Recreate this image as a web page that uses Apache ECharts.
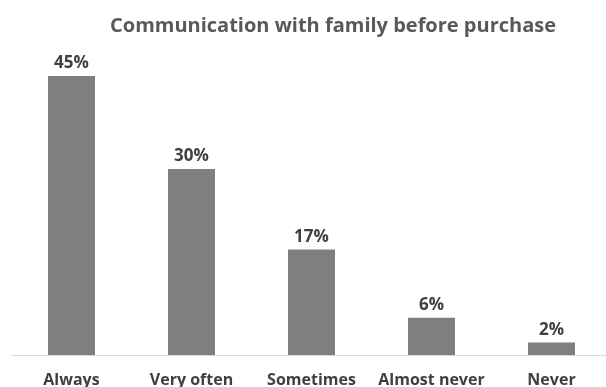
<!DOCTYPE html>
<html>
<head>
<meta charset="utf-8">
<script src="https://cdn.jsdelivr.net/npm/echarts@6/dist/echarts.min.js"></script>
<style>
  html, body { margin: 0; padding: 0; background: #fff; }
  #chart { width: 606px; height: 387px; }
</style>
</head>
<body>
<div id="chart"></div>
<script>
const categories = ['Always', 'Very often', 'Sometimes', 'Almost never', 'Never']
const shares = [45, 30, 17, 6, 2]

const chart = echarts.init(document.getElementById('chart'))
chart.setOption({
  animation: false,
  title: {
    text: 'Communication with family before purchase',
    left: 328,
    textAlign: 'center',
    top: 11,
    textStyle: {
      fontFamily: 'Open Sans',
      fontWeight: 'bold',
      fontSize: 20,
      color: '#595959'
    }
  },
  grid: {
    left: 11.5,
    width: 600,
    top: 45,
    height: 310,
    outerBoundsMode: 'none'
  },
  xAxis: {
    type: 'category',
    data: categories,
    axisLine: { lineStyle: { color: '#d9d9d9', width: 1 } },
    axisTick: { show: false },
    axisLabel: {
      margin: 17,
      fontFamily: 'Open Sans',
      fontWeight: 'bold',
      fontSize: 16,
      color: '#404040',
      interval: 0
    }
  },
  yAxis: {
    type: 'value',
    min: 0,
    max: 50,
    show: false,
    splitLine: { show: false }
  },
  series: [{
    type: 'bar',
    data: shares,
    barWidth: 47,
    itemStyle: { color: '#7f7f7f' },
    label: {
      show: true,
      position: 'top',
      distance: 4,
      formatter: '{c}%',
      fontFamily: 'Open Sans',
      fontWeight: 'bold',
      fontSize: 17,
      color: '#404040'
    }
  }]
})
</script>
</body>
</html>
